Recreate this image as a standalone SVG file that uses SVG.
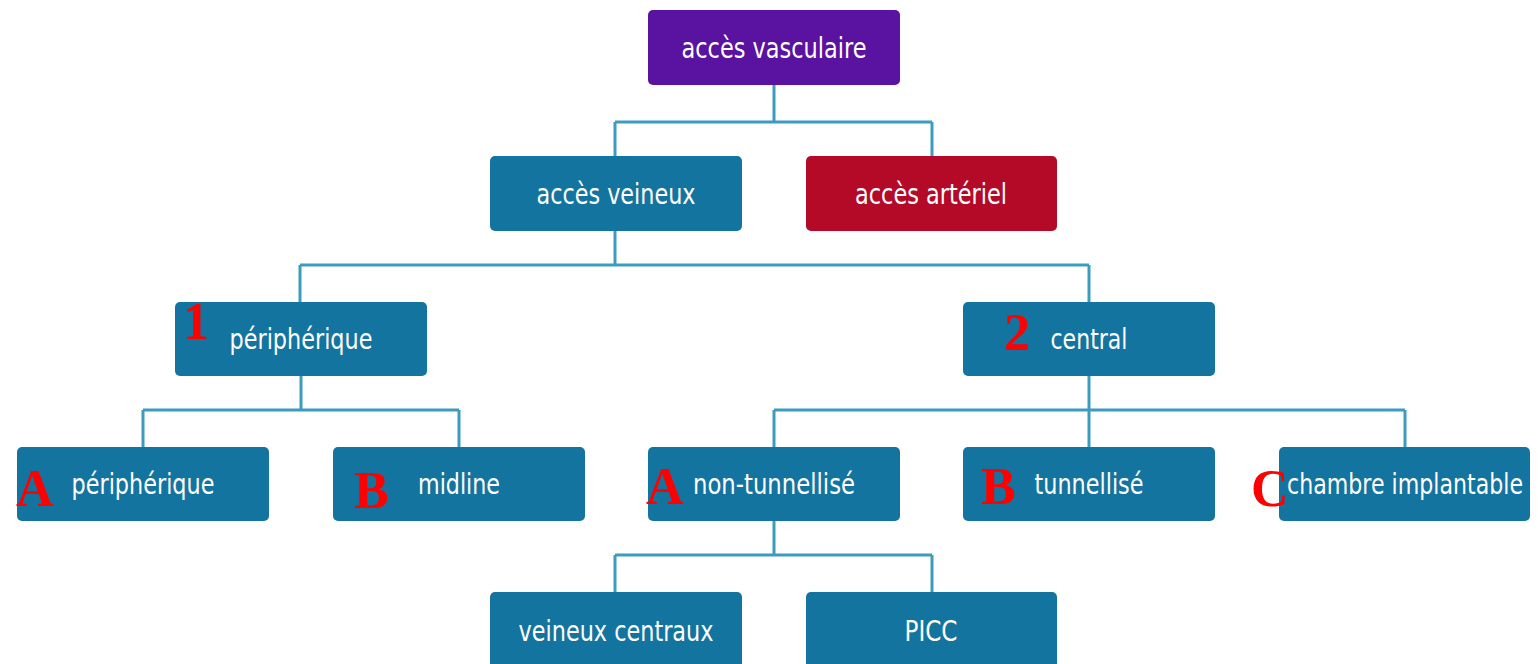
<svg xmlns="http://www.w3.org/2000/svg" width="1538" height="664" viewBox="0 0 1538 664">
<style>
.box{fill:#1474a0;}
.purple{fill:#5a12a0;}
.red{fill:#b40a28;}
.t{font-family:"DejaVu Sans Condensed","DejaVu Sans",sans-serif;font-size:29px;fill:#ffffff;text-anchor:middle;}
.m{font-family:"Liberation Serif",serif;font-weight:bold;font-size:52px;fill:#ff0000;}
.c{fill:none;stroke:#3d9bbf;stroke-width:3;}
</style>
<rect width="1538" height="664" fill="#ffffff"/>
<g id="connectors">
<path class="c" d="M774 85V122M615 122H932M615 122V156M932 122V156"/>
<path class="c" d="M615 231V265M300 265H1089M300 265V302M1089 265V302"/>
<path class="c" d="M301 376V410M143 410H459M143 410V447M459 410V447"/>
<path class="c" d="M1089 376V410M774 410H1405M774 410V447M1089 410V447M1405 410V447"/>
<path class="c" d="M774 521V555M615 555H932M615 555V592M932 555V592"/>
</g>
<g id="n-vasculaire"><rect class="purple" x="648" y="10" width="252" height="75" rx="5"/><text class="t" x="774" y="58" textLength="185" lengthAdjust="spacingAndGlyphs">accès vasculaire</text></g>
<g id="n-veineux"><rect class="box" x="490" y="156" width="252" height="75" rx="5"/><text class="t" x="616" y="204" textLength="159" lengthAdjust="spacingAndGlyphs">accès veineux</text></g>
<g id="n-arteriel"><rect class="red" x="806" y="156" width="251" height="75" rx="5"/><text class="t" x="931" y="204" textLength="152" lengthAdjust="spacingAndGlyphs">accès artériel</text></g>
<g id="n-peripherique1"><rect class="box" x="175" y="302" width="252" height="74" rx="5"/><text class="t" x="301" y="349" textLength="143" lengthAdjust="spacingAndGlyphs">périphérique</text><text class="m" x="183" y="339">1</text></g>
<g id="n-central"><rect class="box" x="963" y="302" width="252" height="74" rx="5"/><text class="t" x="1089" y="349" textLength="77" lengthAdjust="spacingAndGlyphs">central</text><text class="m" x="1004" y="350">2</text></g>
<g id="n-peripheriqueA"><rect class="box" x="17" y="447" width="252" height="74" rx="5"/><text class="t" x="143" y="494" textLength="143" lengthAdjust="spacingAndGlyphs">périphérique</text><text class="m" x="16" y="506">A</text></g>
<g id="n-midline"><rect class="box" x="333" y="447" width="252" height="74" rx="5"/><text class="t" x="459" y="494" textLength="82" lengthAdjust="spacingAndGlyphs">midline</text><text class="m" x="354" y="508">B</text></g>
<g id="n-nontunnellise"><rect class="box" x="648" y="447" width="252" height="74" rx="5"/><text class="t" x="774" y="494" textLength="162" lengthAdjust="spacingAndGlyphs">non-tunnellisé</text><text class="m" x="646" y="504">A</text></g>
<g id="n-tunnellise"><rect class="box" x="963" y="447" width="252" height="74" rx="5"/><text class="t" x="1089" y="494" textLength="109" lengthAdjust="spacingAndGlyphs">tunnellisé</text><text class="m" x="981" y="504">B</text></g>
<g id="n-chambre"><rect class="box" x="1279" y="447" width="251" height="74" rx="5"/><text class="t" x="1405" y="494" textLength="236" lengthAdjust="spacingAndGlyphs">chambre implantable</text><text class="m" x="1251" y="506">C</text></g>
<g id="n-veineuxcentraux"><rect class="box" x="490" y="592" width="252" height="80" rx="5"/><text class="t" x="616" y="641" textLength="195" lengthAdjust="spacingAndGlyphs">veineux centraux</text></g>
<g id="n-picc"><rect class="box" x="806" y="592" width="251" height="80" rx="5"/><text class="t" x="931" y="641" textLength="53" lengthAdjust="spacingAndGlyphs">PICC</text></g>
</svg>
